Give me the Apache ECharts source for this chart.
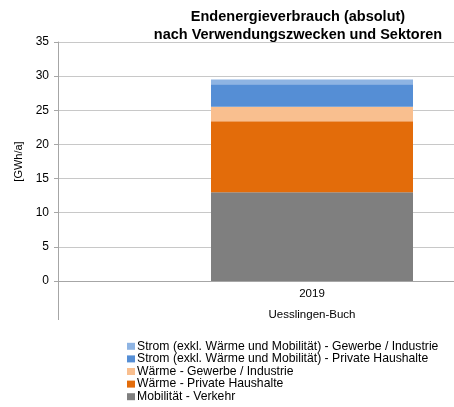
<!DOCTYPE html>
<html>
<head>
<meta charset="utf-8">
<script src="https://cdn.jsdelivr.net/npm/echarts@6/dist/echarts.min.js"></script>
<style>
  html, body { margin: 0; padding: 0; background: #fff; }
  #chart { width: 454px; height: 407px; }
</style>
</head>
<body>
<div id="chart"></div>
<script>
const categories = ['2019\nUesslingen-Buch']
const seriesNames = [
  'Mobilität - Verkehr',
  'Wärme - Private Haushalte',
  'Wärme - Gewerbe / Industrie',
  'Strom (exkl. Wärme und Mobilität) - Private Haushalte',
  'Strom (exkl. Wärme und Mobilität) - Gewerbe / Industrie'
]
const mobilitaet = [13.0]
const waermePrivat = [10.4]
const waermeGewerbe = [2.1]
const stromPrivat = [3.3]
const stromGewerbe = [0.7]
const colors = ['#7f7f7f', '#e36c0a', '#f9bf8f', '#558ed5', '#8eb4e3']

const chart = echarts.init(document.getElementById('chart'))
const font = 'Liberation Sans, Arial, sans-serif'
const values = [mobilitaet, waermePrivat, waermeGewerbe, stromPrivat, stromGewerbe]

chart.setOption({
  animation: false,
  textStyle: { fontFamily: font },
  title: [
    {
      text: 'Endenergieverbrauch (absolut)',
      left: 293, top: 4, textAlign: 'center',
      textStyle: { fontSize: 14.5, fontWeight: 'bold', color: '#000', fontFamily: font }
    },
    {
      text: 'nach Verwendungszwecken und Sektoren',
      left: 293, top: 22, textAlign: 'center',
      textStyle: { fontSize: 14.5, fontWeight: 'bold', color: '#000', fontFamily: font }
    }
  ],
  legend: {
    orient: 'vertical',
    left: 127,
    top: 340,
    padding: 0,
    itemWidth: 8,
    itemHeight: 7,
    itemGap: 0,
    icon: 'rect',
    data: seriesNames.slice().reverse(),
    textStyle: { fontSize: 12.2, color: '#000', lineHeight: 12.6, padding: [0, 0, 0, -3] }
  },
  grid: { left: 58, width: 508, top: 42, bottom: 126, outerBoundsMode: 'none', containLabel: false },
  xAxis: {
    type: 'category',
    data: categories,
    axisLine: { lineStyle: { color: '#a6a6a6' } },
    axisTick: { show: true, length: 39, lineStyle: { color: '#a6a6a6' } },
    axisLabel: { color: '#000', fontSize: 11.5, lineHeight: 21, margin: 2 }
  },
  yAxis: {
    type: 'value',
    min: 0, max: 35, interval: 5,
    name: '[GWh/a]',
    nameLocation: 'middle',
    nameGap: 33,
    nameRotate: 90,
    nameTextStyle: { color: '#000', fontSize: 11 },
    axisLine: { show: true, lineStyle: { color: '#a6a6a6' } },
    axisTick: { show: true, length: 4, lineStyle: { color: '#a6a6a6' } },
    axisLabel: { color: '#000', fontSize: 12, margin: 9 },
    splitLine: { lineStyle: { color: '#c8c8c8' } }
  },
  series: seriesNames.map((name, i) => ({
    name: name,
    type: 'bar',
    stack: 'total',
    barWidth: 202,
    data: values[i],
    itemStyle: { color: colors[i] }
  }))
})
</script>
</body>
</html>
